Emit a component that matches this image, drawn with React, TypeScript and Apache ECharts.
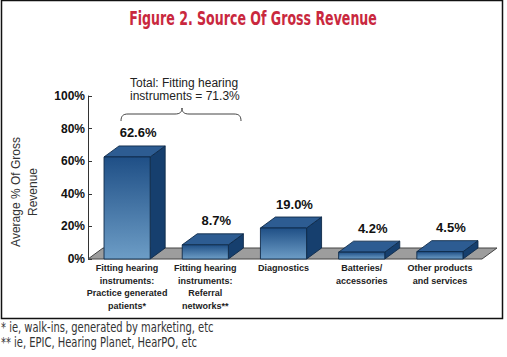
import React, { useEffect, useRef } from "react";
import * as echarts from "echarts";

const categories = [
  "Fitting hearing\ninstruments:\nPractice generated\npatients*",
  "Fitting hearing\ninstruments:\nReferral\nnetworks**",
  "Diagnostics",
  "Batteries/\naccessories",
  "Other products\nand services",
];
const values = [62.6, 8.7, 19.0, 4.2, 4.5];
const yAxisName = ["Average % Of Gross", "Revenue"];
const titleText = "Figure 2. Source Of Gross Revenue";
const bracketText = ["Total: Fitting hearing", "instruments = 71.3%"];
const footnotes = ["* ie, walk-ins, generated by marketing, etc", "** ie, EPIC, Hearing Planet, HearPO, etc"];

const DX = 15;
const DY = -11;

echarts.graphic.registerShape(
  "brace",
  echarts.graphic.extendPath(
    "M121,121 C121,116 123,114 128,114 L175,114 C180,114 182,112 182,108 C182,112 184,114 189,114 L234,114 C239,114 241,116 241,121",
    {}
  )
);

export default function App() {
  const ref = useRef<HTMLDivElement>(null);
  useEffect(() => {
    const chart = echarts.init(ref.current!, null, { renderer: "svg" });
    const sans = "'Liberation Sans', Arial, sans-serif";
    const narrow = "'DejaVu Sans Condensed', 'Liberation Sans', sans-serif";
    chart.setOption({
      animation: false,
      backgroundColor: "#ffffff",
      grid: { left: 88, top: 96, width: 391, height: 163, containLabel: false },
      xAxis: {
        type: "category",
        data: categories,
        axisLine: { show: false },
        axisTick: { show: false },
        axisLabel: {
          interval: 0,
          margin: 3,
          fontSize: 9,
          fontWeight: "bold",
          fontFamily: sans,
          color: "#222",
          lineHeight: 12.5,
          align: "center",
        },
      },
      yAxis: {
        type: "value",
        min: 0,
        max: 100,
        interval: 20,
        splitLine: { show: false },
        axisLine: { show: true, lineStyle: { color: "#333", width: 1 } },
        axisTick: { show: true, inside: true, length: 4, lineStyle: { color: "#333" } },
        axisLabel: {
          formatter: "{value}%",
          margin: 3,
          fontSize: 12,
          fontWeight: "bold",
          fontFamily: sans,
          color: "#111",
        },
      },
      series: [
        {
          type: "custom",
          z: 1,
          data: [[0, 0]],
          silent: true,
          renderItem: (params: any, api: any) => {
            const band = api.size([1, 0])[0];
            const l = api.coord([0, 0]);
            const r = api.coord([categories.length - 1, 0]);
            const x0 = l[0] - band / 2;
            const x1 = r[0] + band / 2 + 3;
            const y = l[1];
            return {
              type: "polygon",
              shape: {
                points: [
                  [x0, y],
                  [x1, y],
                  [x1 + DX, y + DY],
                  [x0 + DX, y + DY],
                ],
              },
              style: { fill: "#9d9d9d", stroke: "#444", lineWidth: 1 },
            };
          },
        },
        {
          type: "custom",
          z: 2,
          data: values.map((v, i) => [i, v]),
          renderItem: (params: any, api: any) => {
            const idx = api.value(0);
            const val = api.value(1);
            const band = api.size([1, 0])[0];
            const w = band * 0.59;
            const base = api.coord([idx, 0]);
            const top = api.coord([idx, val]);
            const x0 = base[0] - w / 2;
            const x1 = base[0] + w / 2;
            const yb = base[1];
            const yt = top[1];
            const stroke = "#0e2a4a";
            return {
              type: "group",
              children: [
                {
                  type: "polygon",
                  shape: { points: [[x1, yb], [x1 + DX, yb + DY], [x1 + DX, yt + DY], [x1, yt]] },
                  style: { fill: "#163f6e", stroke, lineWidth: 0.9 },
                },
                {
                  type: "polygon",
                  shape: { points: [[x0, yt], [x1, yt], [x1 + DX, yt + DY], [x0 + DX, yt + DY]] },
                  style: { fill: "#2d5c92", stroke, lineWidth: 0.9 },
                },
                {
                  type: "rect",
                  shape: { x: x0, y: yt, width: w, height: yb - yt },
                  style: {
                    fill: new echarts.graphic.LinearGradient(0, 0, 0, 1, [
                      { offset: 0, color: "#1f4f86" },
                      { offset: 1, color: "#6d9dc6" },
                    ]),
                    stroke,
                    lineWidth: 0.9,
                  },
                },
                {
                  type: "text",
                  style: {
                    text: val.toFixed(1) + "%",
                    x: base[0] + 11,
                    y: yt - 24,
                    align: "center",
                    verticalAlign: "middle",
                    font: "bold 13px 'Liberation Sans', Arial, sans-serif",
                    fill: "#111",
                  },
                },
              ],
            };
          },
        },
      ],
      graphic: [
        {
          type: "rect",
          z: -10,
          shape: { x: 1.5, y: 0.5, width: 501, height: 318 },
          style: { fill: "none", stroke: "#111", lineWidth: 1.5 },
        },
        {
          type: "text",
          x: 253,
          y: 18,
          scaleX: 0.7,
          style: {
            text: titleText,
            align: "center",
            verticalAlign: "middle",
            font: `bold 20px ${narrow}`,
            fill: "#c9283e",
          },
        },
        {
          type: "text",
          x: 24,
          y: 192,
          rotation: Math.PI / 2,
          style: {
            text: yAxisName.join("\n"),
            align: "center",
            verticalAlign: "middle",
            font: `12px ${sans}`,
            lineHeight: 17,
            fill: "#333",
          },
        },
        {
          type: "text",
          x: 130,
          y: 89,
          style: {
            text: bracketText.join("\n"),
            align: "left",
            verticalAlign: "middle",
            font: `12px ${sans}`,
            lineHeight: 13,
            fill: "#222",
          },
        },
        {
          type: "brace",
          x: 0,
          y: 0,
          shape: {},
          style: { fill: "none", stroke: "#444", lineWidth: 1 },
        },
        {
          type: "text",
          x: 1,
          y: 334,
          scaleX: 0.79,
          style: {
            text: footnotes.join("\n"),
            align: "left",
            verticalAlign: "middle",
            font: `14px ${narrow}`,
            lineHeight: 15,
            fill: "#333",
          },
        },
      ],
    });
    return () => chart.dispose();
  }, []);
  return (
    <div
      ref={ref}
      style={{ position: "fixed", left: 0, top: 0, width: 507, height: 357 }}
    />
  );
}
